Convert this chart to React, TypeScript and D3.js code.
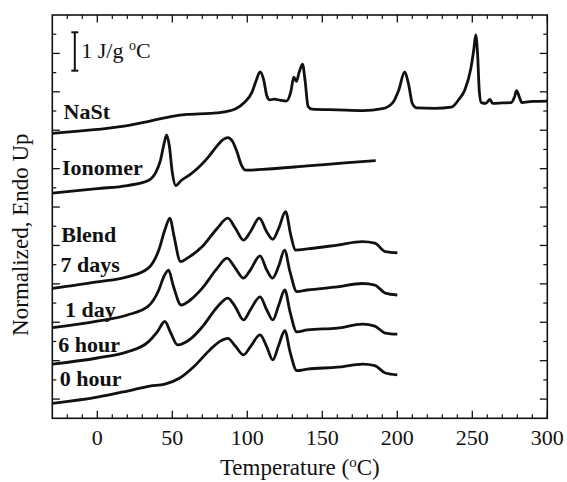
import React from 'react';
import * as d3 from 'd3';

// ---------- data (temperature °C, normalized heat flow J/g°C, offset) ----------
const nastT = [-30, 0, 20, 35, 50, 60, 75, 85, 92, 98, 103, 106, 108.5, 111, 113, 115, 118, 122, 126, 129, 131, 132.7, 134.5, 136.8, 138.5, 140.5, 143, 160, 177, 190, 197, 201, 204.9, 207.5, 210, 213, 225, 236, 241, 245, 249, 251, 252.3, 253.5, 254.7, 256, 259, 261.8, 263.5, 270, 276, 278, 279.5, 281.5, 283, 290, 300];
const nastY = [6.92, 7.02, 7.12, 7.24, 7.36, 7.41, 7.44, 7.48, 7.55, 7.72, 7.98, 8.3, 8.52, 8.3, 7.9, 7.79, 7.81, 7.78, 7.76, 8.0, 8.38, 8.27, 8.5, 8.72, 8.3, 7.62, 7.55, 7.53, 7.51, 7.56, 7.72, 8.05, 8.52, 8.2, 7.7, 7.58, 7.57, 7.6, 7.8, 8.05, 8.6, 9.1, 9.48, 9.0, 8.0, 7.72, 7.7, 7.8, 7.7, 7.71, 7.72, 7.85, 8.03, 7.85, 7.72, 7.75, 7.76];

const ionT = [-30, 0, 20, 34, 39, 42, 44.5, 46.2, 48, 50, 52.3, 55.9, 62, 68, 74, 80, 84, 87, 90, 93, 96, 99, 110, 140, 165, 185.6];
const ionY = [5.36, 5.48, 5.56, 5.69, 5.9, 6.2, 6.65, 6.88, 6.6, 5.9, 5.56, 5.69, 5.85, 6.05, 6.3, 6.6, 6.76, 6.81, 6.72, 6.45, 6.1, 5.96, 5.98, 6.07, 6.15, 6.21];

const d7T = [-30, 0, 20, 34, 41, 45, 48.5, 51, 55.5, 60, 70, 80, 87, 92, 97.5, 102, 108, 113, 117, 121, 125.5, 129, 132, 140, 160, 176.7, 185, 192, 200];
const d7Y = [2.88, 3.05, 3.18, 3.41, 3.88, 4.4, 4.71, 4.27, 3.58, 3.67, 3.97, 4.45, 4.71, 4.45, 4.14, 4.35, 4.71, 4.35, 4.16, 4.45, 4.88, 4.27, 3.88, 3.91, 4.01, 4.1, 4.06, 3.84, 3.81];

const d1T = [-30, 0, 20, 34, 41, 44.5, 47.5, 50.5, 55.9, 62, 70, 80, 86.5, 92, 97.5, 102, 108.5, 113, 116.8, 121, 124.8, 128.5, 133, 140, 160, 176.7, 185, 192, 200];
const d1Y = [1.86, 2.03, 2.19, 2.42, 2.84, 3.2, 3.36, 2.97, 2.45, 2.58, 2.89, 3.41, 3.67, 3.41, 3.15, 3.36, 3.73, 3.36, 3.15, 3.47, 3.88, 3.31, 2.8, 2.84, 2.92, 3.01, 2.97, 2.76, 2.71];

const h6T = [-30, 0, 20, 34, 40, 45, 49, 53.5, 62, 70, 80, 87, 92, 97.5, 102, 108.5, 113, 117, 121, 125, 128.5, 133, 140, 160, 177, 185, 192, 200];
const h6Y = [0.91, 1.07, 1.23, 1.49, 1.75, 2.02, 1.72, 1.41, 1.56, 1.88, 2.4, 2.63, 2.4, 2.06, 2.32, 2.66, 2.32, 2.06, 2.45, 2.84, 2.27, 1.75, 1.8, 1.85, 1.95, 1.9, 1.72, 1.69];

const h0T = [-30, 0, 20, 35, 45, 55, 65, 75, 82, 87, 92, 97.5, 102, 108.5, 113, 117, 121, 125, 128.5, 133, 140, 160, 177, 185, 192, 200];
const h0Y = [-0.11, 0.05, 0.21, 0.34, 0.39, 0.55, 0.87, 1.28, 1.51, 1.58, 1.38, 1.15, 1.36, 1.67, 1.36, 1.02, 1.41, 1.78, 1.23, 0.74, 0.78, 0.83, 0.91, 0.87, 0.68, 0.63];

const seriesT = [nastT, ionT, d7T, d1T, h6T, h0T];
const seriesY = [nastY, ionY, d7Y, d1Y, h6Y, h0Y];

const curveLabels = ['NaSt', 'Ionomer', 'Blend', '7 days', '1 day', '6 hour', '0 hour'];
// label anchors in data units (temperature, value)
const labelT = [-22.5, -23.5, -24, -24.5, -21.5, -26, -25];
const labelV = [7.3, 5.83, 4.1, 3.32, 2.15, 1.23, 0.34];

const xMajor = [0, 50, 100, 150, 200, 250, 300];
const xTickLabels = ['0', '50', '100', '150', '200', '250', '300'];
const xMinor = d3.range(-20, 300, 10).filter((v) => v % 50 !== 0);
const yMajor = d3.range(0, 10, 1);
const yMinor = d3.range(0.5, 10, 1);

const scaleBarT = -15;
const scaleBarV = [8.55, 9.55];

// ---------- layout ----------
const W = 567;
const H = 482;
const left = 52.3;
const right = 547.3;
const top = 15;
const bottom = 418.3;
const font = '"Liberation Serif", "Times New Roman", serif';
const ink = '#111111';

export default function App() {
  const x = d3.scaleLinear().domain([-30, 300]).range([left, right]);
  const y = d3.scaleLinear().domain([-0.5, 10]).range([bottom, top]);
  const line = d3
    .line<[number, number]>()
    .x((d) => x(d[0]))
    .y((d) => y(d[1]))
    .curve(d3.curveMonotoneX);

  const majorLen = 7.5;
  const minorLen = 4;

  return (
    <svg width={W} height={H} style={{ position: 'absolute', left: 0, top: 0 }} fontFamily={font}>
      <rect x={0} y={0} width={W} height={H} fill="white" />
      {seriesT.map((ts, i) => (
        <path
          key={i}
          d={line(ts.map((t, j) => [t, seriesY[i][j]] as [number, number])) || ''}
          fill="none"
          stroke={ink}
          strokeWidth={2.8}
          strokeLinejoin="round"
        />
      ))}
      <rect x={left} y={top} width={right - left} height={bottom - top} fill="none" stroke={ink} strokeWidth={1.6} />
      {xMajor.map((v) => (
        <g key={'xM' + v}>
          <line x1={x(v)} x2={x(v)} y1={bottom} y2={bottom - majorLen} stroke={ink} strokeWidth={1.3} />
          <line x1={x(v)} x2={x(v)} y1={top} y2={top + majorLen} stroke={ink} strokeWidth={1.3} />
        </g>
      ))}
      {xMinor.map((v) => (
        <g key={'xm' + v}>
          <line x1={x(v)} x2={x(v)} y1={bottom} y2={bottom - minorLen} stroke={ink} strokeWidth={1.2} />
          <line x1={x(v)} x2={x(v)} y1={top} y2={top + minorLen} stroke={ink} strokeWidth={1.2} />
        </g>
      ))}
      {yMajor.map((v) => (
        <g key={'yM' + v}>
          <line x1={left} x2={left + majorLen} y1={y(v)} y2={y(v)} stroke={ink} strokeWidth={1.3} />
          <line x1={right} x2={right - majorLen} y1={y(v)} y2={y(v)} stroke={ink} strokeWidth={1.3} />
        </g>
      ))}
      {yMinor.map((v) => (
        <g key={'ym' + v}>
          <line x1={left} x2={left + minorLen} y1={y(v)} y2={y(v)} stroke={ink} strokeWidth={1.2} />
          <line x1={right} x2={right - minorLen} y1={y(v)} y2={y(v)} stroke={ink} strokeWidth={1.2} />
        </g>
      ))}
      {xMajor.map((v, i) => (
        <text key={'xl' + v} x={x(v)} y={445} textAnchor="middle" fontSize={22} fill={ink}>
          {xTickLabels[i]}
        </text>
      ))}
      <text x={(left + right) / 2} y={475} textAnchor="middle" fontSize={23} fill={ink}>
        Temperature (<tspan fontSize={15} dy={-8}>o</tspan>
        <tspan dy={8}>C)</tspan>
      </text>
      <text transform={`translate(28, ${(top + bottom) / 2 + 18}) rotate(-90)`} textAnchor="middle" fontSize={23} fill={ink}>
        Normalized, Endo Up
      </text>
      <g stroke={ink} strokeWidth={2}>
        <line x1={x(scaleBarT)} x2={x(scaleBarT)} y1={y(scaleBarV[0])} y2={y(scaleBarV[1])} />
        <line x1={x(scaleBarT) - 3.5} x2={x(scaleBarT) + 3.5} y1={y(scaleBarV[0])} y2={y(scaleBarV[0])} />
        <line x1={x(scaleBarT) - 3.5} x2={x(scaleBarT) + 3.5} y1={y(scaleBarV[1])} y2={y(scaleBarV[1])} />
      </g>
      <text x={x(scaleBarT) + 6.5} y={57.5} fontSize={22} fill={ink}>
        1 J/g <tspan fontSize={14} dy={-8}>o</tspan>
        <tspan dy={8}>C</tspan>
      </text>
      {curveLabels.map((s, i) => (
        <text key={s} x={x(labelT[i])} y={y(labelV[i])} fontSize={22} fontWeight="bold" fill={ink}>
          {s}
        </text>
      ))}
    </svg>
  );
}
